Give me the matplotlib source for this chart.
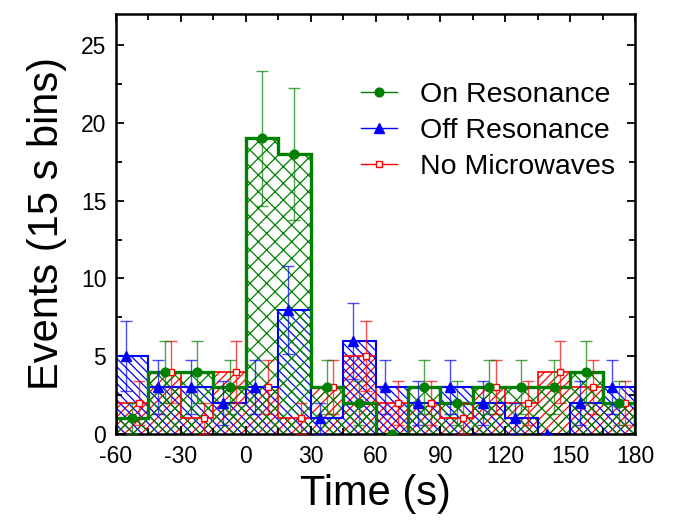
import numpy as np
import matplotlib
matplotlib.use("Agg")
import matplotlib.pyplot as plt
from matplotlib.lines import Line2D
from matplotlib.ticker import MultipleLocator

plt.rcParams['font.family'] = ['Liberation Sans', 'DejaVu Sans']
plt.rcParams['hatch.linewidth'] = 0.9
plt.rcParams['axes.unicode_minus'] = False

# Data (15 s bins from -60 s to 180 s)
bin_edges = np.arange(-60, 181, 15)
on_res = [1, 4, 4, 3, 19, 18, 3, 2, 0, 3, 2, 3, 3, 3, 4, 2]
off_res = [5, 3, 3, 2, 3, 8, 1, 6, 3, 2, 3, 2, 1, 0, 2, 3]
no_mw = [2, 4, 1, 4, 3, 1, 3, 5, 2, 2, 1, 3, 2, 4, 3, 2]
labels = ["On Resonance", "Off Resonance", "No Microwaves"]
xticks = [-60, -30, 0, 30, 60, 90, 120, 150, 180]
yticks = [0, 5, 10, 15, 20, 25]

green = '#008000'
blue = '#0000ff'
red = '#ff0000'

fig = plt.figure(figsize=(6.73, 5.26), dpi=100)
ax = fig.add_axes([116/673, (526-434)/526, (635-116)/673, (434-14)/526])

centers = (bin_edges[:-1] + bin_edges[1:]) / 2
width = 15

series = [
    (no_mw, red, '////', 1.2, 's', 5.0, 3.0, 'none'),
    (off_res, blue, '\\\\\\\\', 1.5, '^', 6.5, -3.0, blue),
    (on_res, green, 'xx', 2.4, 'o', 6.3, 0.0, green),
]

for vals, col, hatch, lw, mk, ms, off, mfc in series:
    vals = np.array(vals, dtype=float)
    ax.bar(bin_edges[:-1], vals, width=width, align='edge', fill=False,
           hatch=hatch, edgecolor=col, linewidth=0, zorder=1)
    ax.stairs(vals, bin_edges, baseline=0, color=col, linewidth=lw, zorder=2)

for vals, col, hatch, lw, mk, ms, off, mfc in series:
    vals = np.array(vals, dtype=float)
    ax.errorbar(centers + off, vals, yerr=np.sqrt(vals), fmt='none',
                ecolor=col, elinewidth=1.0, capsize=4.5, capthick=1.0,
                alpha=0.7, zorder=3)
    ax.plot(centers + off, vals, linestyle='none', marker=mk, markersize=ms,
            markerfacecolor='white' if mfc == 'none' else mfc,
            markeredgecolor=col, markeredgewidth=1.0, zorder=4)

ax.set_xlim(-60, 180)
ax.set_ylim(0, 27)
ax.set_xticks(xticks)
ax.set_yticks(yticks)
ax.xaxis.set_minor_locator(MultipleLocator(15))
ax.yaxis.set_minor_locator(MultipleLocator(2.5))
ax.tick_params(which='major', direction='in', length=6, width=1.3,
               top=True, right=True, labelsize=16.5)
ax.tick_params(which='minor', direction='in', length=4, width=1.3,
               top=True, right=True)
ax.tick_params(axis='x', which='major', pad=8)
ax.tick_params(axis='y', which='major', pad=7)
for sp in ax.spines.values():
    sp.set_linewidth(1.8)

ax.set_xlabel("Time (s)", fontsize=30, labelpad=4)
ax.set_ylabel("Events (15 s bins)", fontsize=30, labelpad=10)

handles = [
    Line2D([], [], color=green, lw=1, marker='o', markersize=6.3, markerfacecolor=green, markeredgecolor=green),
    Line2D([], [], color=blue, lw=1, marker='^', markersize=6.5, markerfacecolor=blue, markeredgecolor=blue),
    Line2D([], [], color=red, lw=1, marker='s', markersize=5.0, markerfacecolor='white', markeredgecolor=red),
]
ax.legend(handles, labels, loc='upper left', bbox_to_anchor=(0.428, 0.893),
          frameon=False, fontsize=20.5, handlelength=1.28, handletextpad=0.8,
          labelspacing=0.35, borderpad=0.3)

fig.savefig("out.png", dpi=100)
